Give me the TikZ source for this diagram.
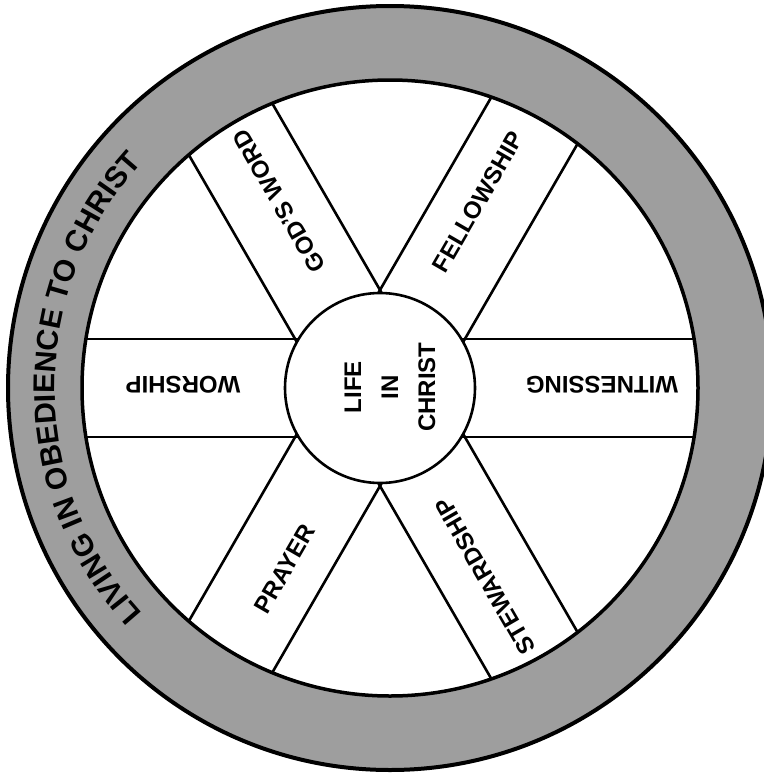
\documentclass[tikz,border=0pt]{standalone}
\usepackage{fontspec}
\setmainfont{Liberation Sans}
\usetikzlibrary{decorations.text}
\definecolor{ringgray}{RGB}{158,158,158}
\newcommand\ringfont{\fontsize{30}{32}\selectfont\bfseries}
\tikzset{
  lbl/.style={font=\fontsize{24}{37}\selectfont\bfseries, inner sep=0pt},
  spokeline/.style={line width=2.6pt},
}
\begin{document}
\begin{tikzpicture}[x=1pt,y=1pt]
\useasboundingbox (0,0) rectangle (763,-779);
\fill[white] (0,0) rectangle (763,-779);
\coordinate (c) at (390,-388);
\fill[ringgray, draw=black, line width=4pt] (c) circle[radius=382];
\fill[white, draw=black, line width=3.5pt] (c) circle[radius=308];
\coordinate (hc) at (380,-388);
\begin{scope}
  \clip (c) circle[radius=308];
  \foreach \a in {0,60,120}{
    \foreach \b in {90,-90}{
      \draw[spokeline] ([shift={(\a+\b:49)}]hc) ++(\a:400) -- ++(\a+180:800);
    }
  }
\end{scope}
\node[circle, draw, fill=white, line width=2.6pt, minimum size=190pt, inner sep=0pt] (hub) at (hc) {};
\node[lbl, rotate=90, align=center] (life) at (390,-387) {LIFE\\IN\\CHRIST};
\node[lbl, rotate=180] (worship) at (183,-385) {WORSHIP};
\node[lbl, rotate=180] (witnessing) at (602,-385) {WITNESSING};
\node[lbl, rotate=120] (godsword) at (279,-201) {GOD'S WORD};
\node[lbl, rotate=60] (fellowship) at (478,-202) {FELLOWSHIP};
\node[lbl, rotate=60] (prayer) at (285,-569) {PRAYER};
\node[lbl, rotate=120] (stewardship) at (485,-576) {STEWARDSHIP};
\path[decorate, decoration={text along path, text align=center,
  text={|\ringfont|LIVING IN OBEDIENCE TO CHRIST}}]
  ([shift={(c)}]225:335) arc[start angle=225, end angle=135, radius=335];
\end{tikzpicture}
\end{document}
